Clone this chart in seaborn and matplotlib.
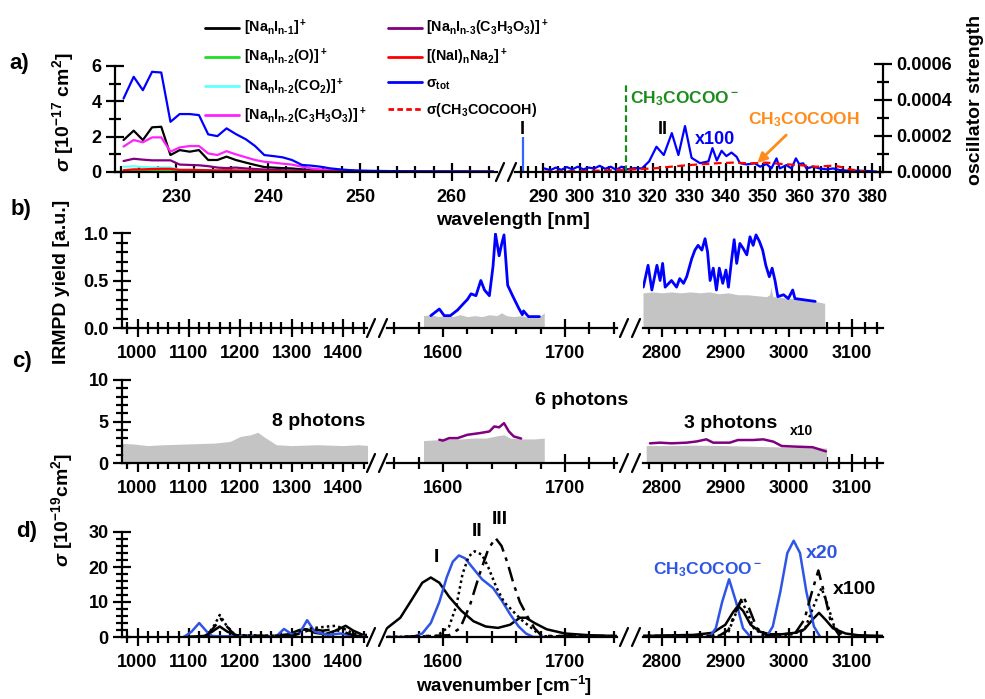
import matplotlib
matplotlib.use('Agg')
import matplotlib.pyplot as plt
from matplotlib.lines import Line2D
from matplotlib.ticker import MultipleLocator, FormatStrFormatter
import seaborn as sns

# ---------------- data: panel a (UV photodissociation) ----------------
wl_left = [224.3, 225.4, 226.4, 227.4, 228.4, 229.4, 230.4, 231.5, 232.5, 233.5, 234.5,
           235.5, 236.5, 237.6, 238.6, 239.6, 240.6, 241.6, 242.6, 243.7, 244.7, 245.7,
           246.7, 247.8, 248.8, 249.9, 252, 255, 258, 261, 264.5]
sig_tot = [4.16, 5.39, 4.63, 5.67, 5.63, 2.84, 3.28, 3.28, 3.22, 2.13, 2.03, 2.47, 2.15,
           1.85, 1.47, 0.96, 0.90, 0.83, 0.68, 0.40, 0.36, 0.30, 0.21, 0.15, 0.11, 0.08,
           0.06, 0.04, 0.03, 0.03, 0.02]
frag_nm1 = [1.81, 2.34, 1.81, 2.53, 2.56, 0.96, 1.24, 1.15, 1.24, 0.68, 0.68, 0.87, 0.68,
            0.53, 0.40, 0.28, 0.25, 0.22, 0.20, 0.15, 0.10, 0.08, 0.06, 0.05, 0.04, 0.03,
            0.02, 0.02, 0.01, 0.01, 0.01]
frag_o = [0.04, 0.05, 0.05, 0.06, 0.06, 0.06, 0.04, 0.04, 0.04, 0.03, 0.03, 0.03, 0.03,
          0.02, 0.02, 0.02, 0.02, 0.01, 0.01, 0.01, 0.01, 0.01, 0.01, 0.01, 0.0, 0.0,
          0.0, 0.0, 0.0, 0.0, 0.0]
frag_co2 = [0.30, 0.32, 0.28, 0.26, 0.26, 0.26, 0.13, 0.13, 0.12, 0.11, 0.09, 0.08, 0.08,
            0.07, 0.06, 0.05, 0.04, 0.04, 0.03, 0.03, 0.02, 0.02, 0.02, 0.01, 0.01, 0.01,
            0.01, 0.01, 0.0, 0.0, 0.0]
frag_pyr2 = [1.44, 1.81, 1.68, 1.96, 1.96, 1.15, 1.39, 1.47, 1.47, 1.05, 0.96, 1.18, 1.00,
             0.83, 0.68, 0.58, 0.53, 0.47, 0.42, 0.30, 0.20, 0.15, 0.12, 0.10, 0.08, 0.06,
             0.04, 0.03, 0.02, 0.02, 0.01]
frag_pyr3 = [0.62, 0.75, 0.70, 0.66, 0.66, 0.66, 0.42, 0.40, 0.38, 0.33, 0.25, 0.22, 0.25,
             0.20, 0.17, 0.14, 0.12, 0.10, 0.09, 0.08, 0.06, 0.05, 0.04, 0.03, 0.03, 0.02,
             0.02, 0.01, 0.01, 0.01, 0.01]
frag_na2 = [0.10, 0.15, 0.15, 0.17, 0.18, 0.18, 0.12, 0.12, 0.11, 0.10, 0.09, 0.10, 0.09,
            0.08, 0.07, 0.06, 0.05, 0.04, 0.04, 0.03, 0.03, 0.02, 0.02, 0.02, 0.01, 0.01,
            0.01, 0.01, 0.0, 0.0, 0.0]

wl_right = [290.4, 292, 293.5, 295, 296.5, 298, 299.5, 301, 302.5, 304, 305.5, 307, 308.5,
            310, 311.5, 313, 315, 317, 319, 321, 323, 325.2, 327, 328.8, 330.6, 332.9,
            335.2, 336.3, 337.5, 338.8, 340.1, 341.5, 342.9, 343.8, 345.6, 347.9, 349.3,
            351.1, 352.4, 353.8, 354.7, 356.5, 357.9, 359.1, 360, 361.1, 362, 363.8, 365.6,
            367.4, 369.3, 371.1, 373.8, 376.5, 379.3, 381.1]
sig_tot_x100 = [0.20, 0.10, 0.25, 0.12, 0.28, 0.15, 0.30, 0.15, 0.25, 0.20, 0.35, 0.18,
                0.30, 0.12, 0.30, 0.15, 0.22, 0.20, 0.60, 1.43, 0.96, 2.20, 0.96, 2.60,
                0.80, 0.50, 0.60, 1.35, 0.65, 1.20, 0.90, 1.10, 0.86, 0.50, 0.43, 0.49,
                0.30, 0.45, 0.20, 0.77, 0.20, 0.39, 0.20, 0.77, 0.45, 0.49, 0.20, 0.30,
                0.20, 0.15, 0.20, 0.11, 0.07, 0.07, 0.05, 0.02]
wl_acid = [290, 300, 311, 320, 329, 338, 342, 346.6, 351, 355.6, 360, 364.7, 369.3, 371,
           373.8, 376.5, 378.3]
sig_acid = [0.02, 0.05, 0.11, 0.20, 0.38, 0.50, 0.53, 0.49, 0.53, 0.45, 0.39, 0.30, 0.36,
            0.30, 0.15, 0.07, 0.02]
stick_I_nm, stick_I_val = 284.4, 1.98
anion_line_nm, anion_line_top = 312.8, 5.1

# ---------------- data: panel b (IRMPD yield) ----------------
b2_wn = [1590, 1597, 1601, 1606, 1612, 1617, 1620, 1623, 1627, 1631, 1634, 1638, 1641,
         1643, 1646, 1648, 1650, 1653, 1657, 1662, 1665, 1666, 1670, 1679]
b2_y = [0.13, 0.20, 0.13, 0.13, 0.19, 0.26, 0.30, 0.36, 0.34, 0.50, 0.40, 0.34, 0.65,
        0.99, 0.76, 0.88, 0.98, 0.45, 0.34, 0.21, 0.14, 0.18, 0.12, 0.12]
b3_wn = [2770.5, 2778, 2784, 2792, 2797, 2801, 2805, 2815, 2823, 2828, 2834, 2839, 2847,
         2852, 2857, 2863, 2868, 2872, 2876, 2881, 2886, 2890.5, 2896, 2901, 2905, 2910,
         2914, 2918, 2923, 2928, 2934, 2939, 2944, 2948.5, 2954, 2959, 2964, 2969.5, 2974,
         2978.5, 2983, 2992, 2999.5, 3006.5, 3010, 3042]
b3_y = [0.43, 0.66, 0.40, 0.66, 0.50, 0.68, 0.43, 0.50, 0.43, 0.52, 0.47, 0.54, 0.73,
        0.82, 0.87, 0.82, 0.94, 0.80, 0.50, 0.63, 0.40, 0.63, 0.47, 0.61, 0.43, 0.72,
        0.93, 0.68, 0.89, 0.84, 0.77, 0.96, 0.87, 0.98, 0.91, 0.82, 0.66, 0.54, 0.63,
        0.50, 0.33, 0.35, 0.31, 0.40, 0.31, 0.28]
bg_b2_wn = [1584, 1590, 1596, 1602, 1608, 1614, 1620, 1626, 1632, 1638, 1644, 1648, 1652,
            1658, 1664, 1670, 1676, 1680, 1683]
bg_b2 = [0.13, 0.14, 0.12, 0.13, 0.12, 0.14, 0.12, 0.13, 0.12, 0.14, 0.13, 0.16, 0.13,
         0.12, 0.13, 0.11, 0.12, 0.13, 0.16]
bg_b3_wn = [2770, 2785, 2800, 2815, 2830, 2845, 2860, 2875, 2890, 2905, 2920, 2935, 2950,
            2965, 2970, 2972, 2975, 2990, 3005, 3020, 3035, 3050, 3057]
bg_b3 = [0.37, 0.38, 0.37, 0.38, 0.37, 0.38, 0.37, 0.38, 0.36, 0.37, 0.35, 0.35, 0.34,
         0.33, 0.35, 0.43, 0.33, 0.32, 0.31, 0.30, 0.29, 0.27, 0.26]

# ---------------- data: panel c (IRMPD cross sections) ----------------
bg_c1_wn = [971, 990, 1020, 1050, 1100, 1150, 1180, 1200, 1220, 1234, 1245, 1270, 1300,
            1350, 1400, 1430, 1452]
bg_c1 = [2.35, 2.3, 2.1, 2.2, 2.3, 2.4, 2.6, 3.2, 3.4, 3.7, 3.2, 2.2, 2.1, 2.2, 2.1, 2.2, 2.1]
bg_c2_wn = [1584, 1595, 1605, 1615, 1625, 1635, 1645, 1650, 1655, 1665, 1675, 1683]
bg_c2 = [2.7, 2.8, 2.9, 2.9, 3.0, 3.0, 3.3, 3.4, 3.0, 2.9, 2.9, 3.0]
bg_c3_wn = [2775, 2800, 2850, 2900, 2950, 2980, 3000, 3030, 3060]
bg_c3 = [2.1, 2.1, 2.15, 2.1, 2.0, 1.95, 1.9, 1.85, 1.8]
c2_wn = [1597, 1600, 1605, 1612, 1620, 1630, 1638, 1642, 1646, 1650, 1654, 1658, 1664]
c2_y = [2.8, 2.7, 3.0, 3.0, 3.4, 3.6, 3.8, 4.4, 4.3, 4.8, 3.8, 3.2, 2.95]
c3_wn = [2781, 2797, 2815, 2839, 2855, 2870, 2881, 2907, 2920, 2944, 2960, 2976, 2989,
         3012, 3038, 3059]
c3_y = [2.37, 2.45, 2.37, 2.45, 2.6, 2.85, 2.45, 2.45, 2.77, 2.77, 2.85, 2.57, 2.05, 1.97,
        1.9, 1.4]

# ---------------- data: panel d (calculated spectra) ----------------
d_I_wn = [1090, 1130, 1145, 1160, 1175, 1195, 1260, 1295, 1315, 1330, 1345, 1365, 1385,
          1405, 1420, 1440, 1554, 1565, 1575, 1583, 1590, 1597, 1605, 1615, 1625, 1635,
          1645, 1655, 1663, 1668, 1675, 1685, 1700, 1720, 1742, 2770, 2850, 2880, 2900,
          2912, 2920, 2928, 2940, 2955, 2970, 2990, 3010, 3025, 3038, 3048, 3058, 3070,
          3090, 3110, 3150]
d_I = [0, 0.3, 1.5, 3.0, 1.5, 0.4, 0.2, 0.8, 2.0, 2.2, 1.2, 0.8, 1.8, 3.2, 1.8, 0.5, 2.5,
       5.5, 11, 15.5, 17, 15.5, 11.5, 7.5, 4.5, 3.0, 2.6, 3.5, 5.5, 5.5, 4.0, 2.2, 1.0, 0.5,
       0.3, 0.3, 0.6, 1.2, 3.5, 7.0, 8.9, 7.5, 3.5, 1.5, 0.8, 0.8, 1.2, 2.2, 5.0, 6.9, 5.0,
       2.5, 1.0, 0.5, 0.3]
d_anion_wn = [1090, 1105, 1120, 1135, 1145, 1160, 1270, 1285, 1300, 1315, 1330, 1345,
              1370, 1395, 1420, 1440, 1575, 1583, 1590, 1597, 1603, 1608, 1613, 1618, 1625,
              1632, 1641, 1648, 1655, 1662, 1668, 1674, 2875, 2885, 2895, 2906, 2917, 2928,
              2940, 2965, 2975, 2987, 2998, 3008, 3018, 3028, 3040, 3050]
d_anion = [0, 1.5, 4.0, 1.5, 0.3, 0.2, 0.2, 2.3, 0.8, 1.0, 4.8, 1.5, 0.6, 1.0, 0.3, 0.1, 0,
           1.0, 4.0, 10, 17, 21.5, 23.3, 22.5, 19.5, 16.5, 14, 10.5, 6.5, 3.0, 1.0, 0, 0,
           2.5, 10, 16.5, 10, 2.5, 0, 0, 3.0, 13, 24, 27.5, 24, 13, 3.0, 0]
d_II_wn = [1135, 1150, 1160, 1172, 1190, 1300, 1320, 1345, 1370, 1385, 1400, 1420, 1440,
           1560, 1595, 1605, 1611, 1616, 1621, 1626, 1632, 1637, 1644, 1650, 1657, 1664,
           1671, 1678, 1683, 2890, 2905, 2915, 2925, 2935, 2945, 2960, 3000, 3025, 3040,
           3052, 3062, 3072, 3085]
d_II = [0.3, 3.5, 6.3, 3.5, 0.5, 0.3, 2.0, 2.6, 3.0, 3.2, 2.5, 1.0, 0.2, 0, 0.3, 3.0, 9.0,
        18, 23, 24.5, 23.5, 20, 14, 10, 7.5, 5.0, 3.0, 1.0, 0.2, 0.3, 1.5, 6.0, 10.5, 7.0,
        2.5, 0.5, 0.5, 2.0, 9.0, 14, 9.0, 3.0, 0.5]
d_III_wn = [1135, 1150, 1162, 1175, 1190, 1300, 1320, 1340, 1360, 1380, 1400, 1420, 1440,
            1560, 1605, 1614, 1622, 1630, 1637, 1643, 1648, 1653, 1658, 1663, 1669, 1675,
            1681, 2890, 2905, 2918, 2928, 2938, 2950, 2965, 3010, 3025, 3037, 3047, 3057,
            3067, 3080]
d_III = [0.3, 3.0, 5.2, 2.8, 0.4, 0.3, 1.2, 2.3, 1.8, 2.2, 1.5, 0.5, 0.1, 0, 0.5, 2.5,
         9.0, 18, 25, 28.3, 26, 21, 15, 10, 6.0, 2.5, 0.3, 0.3, 2.0, 8.0, 11.7, 8.0, 2.5,
         0.5, 1.0, 5.0, 13, 19, 12, 4.0, 0.5]

# ---------------- style ----------------
sns.set_style('ticks')
plt.rcParams['font.family'] = ['Liberation Sans', 'DejaVu Sans']
plt.rcParams['font.weight'] = 'bold'
plt.rcParams['mathtext.fontset'] = 'custom'
plt.rcParams['mathtext.rm'] = 'Liberation Sans:bold'
plt.rcParams['mathtext.bf'] = 'Liberation Sans:bold'
plt.rcParams['mathtext.sf'] = 'Liberation Sans:bold'
plt.rcParams['mathtext.it'] = 'Liberation Sans:italic:bold'
plt.rcParams['mathtext.default'] = 'rm'
for k in ['axes.edgecolor', 'xtick.color', 'ytick.color', 'text.color', 'axes.labelcolor']:
    plt.rcParams[k] = 'black'

W, H = 985, 699
fig = plt.figure(figsize=(W / 100, H / 100), dpi=100)
GRAY = '#c4c4c4'
ANION = '#2f55e6'


def pax(x0, x1, y0, y1):
    return fig.add_axes([x0 / W, 1 - y1 / H, (x1 - x0) / W, (y1 - y0) / H])


def style(ax, left, xpad=6):
    ax.set_facecolor('none')
    for s in ['top', 'right', 'left']:
        ax.spines[s].set_visible(False)
    ax.spines['bottom'].set_linewidth(1.6)
    ax.tick_params(which='major', direction='inout', length=13, width=1.6,
                   labelsize=13, pad=3)
    ax.tick_params(axis='x', which='major', pad=xpad)
    ax.tick_params(which='minor', direction='inout', length=8, width=1.6)
    if left:
        ax.spines['left'].set_visible(True)
        ax.spines['left'].set_linewidth(1.6)
    else:
        ax.tick_params(axis='y', which='both', left=False, labelleft=False)


def line(ax, x, y, **kw):
    sns.lineplot(x=x, y=y, ax=ax, estimator=None, sort=False, **kw)
    return ax.lines[-1]


def brk(x, y):
    for dx in (-6, 6):
        fig.add_artist(Line2D([(x + dx - 4) / W, (x + dx + 4) / W],
                              [1 - (y + 9) / H, 1 - (y - 9) / H], color='k', lw=1.6))


def ftext(x, y, s, **kw):
    kw.setdefault('ha', 'center')
    kw.setdefault('va', 'center')
    kw.setdefault('fontsize', 14)
    fig.text(x / W, 1 - y / H, s, **kw)


# ---------------- panel a ----------------
a1 = pax(115, 497, 66, 172)
a2 = pax(515, 883, 64, 172)
style(a1, True, xpad=6)
style(a2, False, xpad=6)

series = [(frag_nm1, 'black'), (frag_o, '#22dd22'), (frag_co2, '#66ffff'),
          (frag_pyr2, '#ff22ff'), (frag_pyr3, '#800080'), (frag_na2, '#ff0000')]
for vals, col in series:
    line(a1, wl_left, vals, color=col, lw=1.6)
line(a1, wl_left, sig_tot, color='#0000ff', lw=1.6)

line(a2, wl_right, sig_tot_x100, color='#0000ff', lw=1.6)
line(a2, wl_acid, sig_acid, color='#ff0000', lw=1.6, linestyle=(0, (3.5, 2)))
a2.vlines(stick_I_nm, 0, stick_I_val, color='#3366ff', lw=1.6)
a2.vlines(anion_line_nm, 0, anion_line_top, color='#1a8c1a', lw=1.6, linestyle=(0, (3, 1.5)))
a2.annotate('', xy=(348.0, 0.4), xytext=(357.0, 2.2),
            arrowprops=dict(arrowstyle='-|>', color='#ff8c1a', lw=2, mutation_scale=14))

a1.set_xlim(223.37, 264.9)
a1.set_ylim(0, 6)
a1.xaxis.set_major_locator(MultipleLocator(10))
a1.xaxis.set_minor_locator(MultipleLocator(2))
a1.yaxis.set_major_locator(MultipleLocator(2))
a1.yaxis.set_minor_locator(MultipleLocator(1))
a2.set_xlim(282.35, 382.9)
a2.set_ylim(0, 6.11)
a2.xaxis.set_major_locator(MultipleLocator(10))
a2.xaxis.set_minor_locator(MultipleLocator(2))

ao = a2.twinx()
a2.tick_params(axis='y', which='both', left=False, labelleft=False)
ao.set_facecolor('none')
for s in ['top', 'left', 'bottom']:
    ao.spines[s].set_visible(False)
ao.spines['right'].set_linewidth(1.6)
ao.set_ylim(0, 0.0006)
ao.yaxis.set_major_locator(MultipleLocator(0.0002))
ao.yaxis.set_minor_locator(MultipleLocator(0.0001))
ao.yaxis.set_major_formatter(FormatStrFormatter('%.4f'))
ao.tick_params(which='major', direction='inout', length=13, width=1.6, labelsize=13, pad=3)
ao.tick_params(which='minor', direction='inout', length=8, width=1.6)
brk(506, 172)

leg_handles = [Line2D([], [], color=c, lw=2) for _, c in series] + \
              [Line2D([], [], color='#0000ff', lw=2),
               Line2D([], [], color='#ff0000', lw=2, linestyle=(0, (2, 1.2)))]
leg_labels = ['[Na$_n$I$_{n‐1}$]$^+$', '[Na$_n$I$_{n‐2}$(O)]$^+$',
              '[Na$_n$I$_{n‐2}$(CO$_2$)]$^+$', '[Na$_n$I$_{n‐2}$(C$_3$H$_3$O$_3$)]$^+$',
              '[Na$_n$I$_{n‐3}$(C$_3$H$_3$O$_3$)]$^+$', '[(NaI)$_n$Na$_2$]$^+$',
              'σ$_{tot}$', 'σ(CH$_3$COCOOH)']
fig.legend(leg_handles, leg_labels, ncol=2,
           loc='upper left', bbox_to_anchor=(205 / W, 1 - 18 / H), frameon=False,
           fontsize=10.3, handlelength=2.4, handletextpad=0.3, columnspacing=1.5,
           labelspacing=0.62, borderpad=0, borderaxespad=0)

ftext(19, 64, 'a)', fontsize=16)
ftext(63, 112, r'$\mathit{σ}$ [10$^{-17}$ cm$^{2}$]', rotation=90)
ftext(976, 100, 'oscillator strength', rotation=90)
ftext(513, 220, 'wavelength [nm]')
ftext(522, 130, 'I', fontsize=13)
ftext(663, 130, 'II', fontsize=13)
ftext(715, 140, 'x100', color='#0000ff', fontsize=13)
ftext(630, 99, 'CH$_3$COCOO$^-$', color='#1a8c1a', fontsize=12.5, ha='left')
ftext(748, 120, 'CH$_3$COCOOH', color='#ff8c1a', fontsize=12.5, ha='left')

# ---------------- panels b, c, d (broken wavenumber axis) ----------------
SEG_X = [(122, 367), (387, 617), (643, 883)]
SEG_LIM = [(969.8, 1446.5), (1554.1, 1742.6), (2770.0, 3149.1)]


def panel(ytop, ybot, ylim, major, minor):
    axs = []
    for i, ((x0, x1), lim) in enumerate(zip(SEG_X, SEG_LIM)):
        ax = pax(x0, x1, ytop, ybot)
        style(ax, i == 0)
        ax.set_xlim(*lim)
        ax.set_ylim(*ylim)
        ax.xaxis.set_major_locator(MultipleLocator(100))
        ax.xaxis.set_minor_locator(MultipleLocator(20))
        ax.yaxis.set_major_locator(MultipleLocator(major))
        ax.yaxis.set_minor_locator(MultipleLocator(minor))
        axs.append(ax)
    brk(377, ybot)
    brk(630, ybot)
    return axs


b1, b2, b3 = panel(233, 328, (0, 1), 0.5, 0.1)
b2.fill_between(bg_b2_wn, bg_b2, color=GRAY, lw=0)
b3.fill_between(bg_b3_wn, bg_b3, color=GRAY, lw=0)
line(b2, b2_wn, b2_y, color='#0000ff', lw=2)
line(b3, b3_wn, b3_y, color='#0000ff', lw=2)
b1.set_ylim(0, 1)
ftext(21, 209, 'b)', fontsize=16)
ftext(62, 282, 'IRMPD yield [a.u.]', rotation=90)

c1, c2, c3 = panel(380, 463, (0, 10), 5, 1)
c1.fill_between(bg_c1_wn, bg_c1, color=GRAY, lw=0)
c2.fill_between(bg_c2_wn, bg_c2, color=GRAY, lw=0)
c3.fill_between(bg_c3_wn, bg_c3, color=GRAY, lw=0)
line(c2, c2_wn, c2_y, color='#800080', lw=1.8)
line(c3, c3_wn, c3_y, color='#800080', lw=1.8)
ftext(22, 361, 'c)', fontsize=16)
ftext(319, 422, '8 photons')
ftext(582, 400, '6 photons')
ftext(731, 423, '3 photons')
ftext(802, 431, 'x10', fontsize=10)

d1, d2, d3 = panel(532, 637, (0, 30), 10, 2)
for ax in (d1, d2, d3):
    line(ax, d_I_wn, d_I, color='black', lw=1.8)
    line(ax, d_anion_wn, d_anion, color=ANION, lw=1.8)
    line(ax, d_II_wn, d_II, color='black', lw=1.8, linestyle=(0, (1, 1.3)))
    line(ax, d_III_wn, d_III, color='black', lw=1.8, linestyle=(0, (6, 2.5, 1.5, 2.5)))
ftext(27, 532, 'd)', fontsize=16)
ftext(62, 510, r'$\mathit{σ}$ [10$^{-19}$cm$^{2}$]', rotation=90)
ftext(504, 686, 'wavenumber [cm$^{-1}$]', fontsize=13.5)
ftext(436, 558, 'I')
ftext(477, 532, 'II')
ftext(500, 520, 'III')
ftext(653, 570, 'CH$_3$COCOO$^-$', color=ANION, fontsize=12.5, ha='left')
ftext(822, 553, 'x20', color=ANION)
ftext(854, 590, 'x100')

fig.savefig('out.png', dpi=100)
